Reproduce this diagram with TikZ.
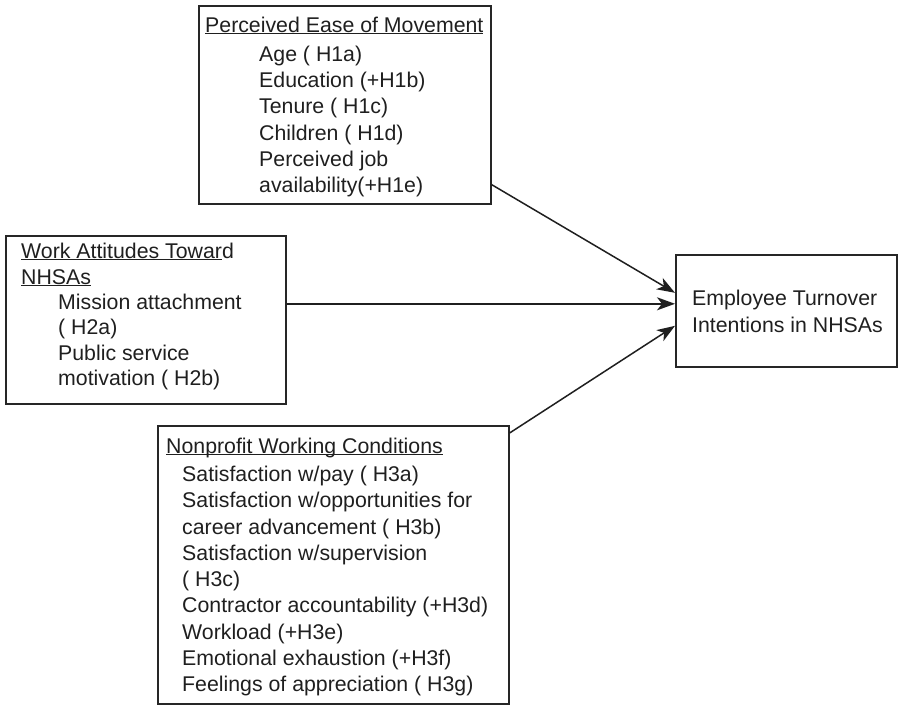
\documentclass[tikz,border=0pt]{standalone}
\usepackage{fontspec}
\setmainfont{Liberation Sans}
\usetikzlibrary{arrows.meta}
\newcommand\ulx[1]{\setbox0\hbox{#1}\rlap{\rule[-2.4pt]{\wd0}{1.2pt}}\box0}
\begin{document}
\begin{tikzpicture}[x=1pt,y=-1pt,
  box/.style={draw=black!85, line width=1.6pt, inner sep=0pt, anchor=north west},
  txt/.style={inner sep=0pt, anchor=base west, font=\fontsize{21.3}{26}\selectfont, text=black!88},
  arr/.style={draw=black!88, line width=1.5pt, -{Stealth[length=18pt,width=13pt,inset=5pt]}}]
\useasboundingbox (0,0) rectangle (898,705);
% boxes
\node[box, minimum width=292pt, minimum height=198pt] (ease) at (198,5) {};
\node[box, minimum width=280pt, minimum height=168pt] (att) at (5,235) {};
\node[box, minimum width=221pt, minimum height=112pt] (eti) at (675,254) {};
\node[box, minimum width=351pt, minimum height=278pt] (cond) at (157,425) {};
% top box text
\node[txt] (e0) at (205,32) {\ulx{Perceived Ease of Movement}};
\node[txt] (e1) at (259,61) {Age ( H1a)};
\node[txt] (e2) at (259,87) {Education (+H1b)};
\node[txt] (e3) at (259,113) {Tenure ( H1c)};
\node[txt] (e4) at (259,140) {Children ( H1d)};
\node[txt] (e5) at (259,166) {Perceived job};
\node[txt] (e6) at (259,192) {availability(+H1e)};
% left box text
\node[txt] (a0) at (21,258) {\ulx{Work Attitudes Towar}d};
\node[txt] (a1) at (21,284) {\ulx{NHSAs}};
\node[txt] (a2) at (58,309) {Mission attachment};
\node[txt] (a3) at (58,334) {( H2a)};
\node[txt] (a4) at (58,360) {Public service};
\node[txt] (a5) at (58,385) {motivation ( H2b)};
% right box text
\node[txt] (r1) at (692,305) {Employee Turnover};
\node[txt] (r2) at (692,332) {Intentions in NHSAs};
% bottom box text
\node[txt] (c0) at (166,453) {\ulx{Nonprofit Working Conditions}};
\node[txt] (c1) at (182,481) {Satisfaction w/pay ( H3a)};
\node[txt] (c2) at (182,507) {Satisfaction w/opportunities for};
\node[txt] (c3) at (182,534) {career advancement ( H3b)};
\node[txt] (c4) at (182,560) {Satisfaction w/supervision};
\node[txt] (c5) at (182,586) {( H3c)};
\node[txt] (c6) at (182,612) {Contractor accountability (+H3d)};
\node[txt] (c7) at (182,639) {Workload (+H3e)};
\node[txt] (c8) at (182,665) {Emotional exhaustion (+H3f)};
\node[txt] (c9) at (182,691) {Feelings of appreciation ( H3g)};
% arrows
\draw[arr] ([yshift=20pt]ease.south east) -- ([yshift=18pt]eti.west);
\draw[arr] ([yshift=16pt]att.east) -- ([yshift=7pt]eti.west);
\draw[arr] ([yshift=-8pt]cond.north east) -- ([yshift=-15pt]eti.west);
\end{tikzpicture}
\end{document}
